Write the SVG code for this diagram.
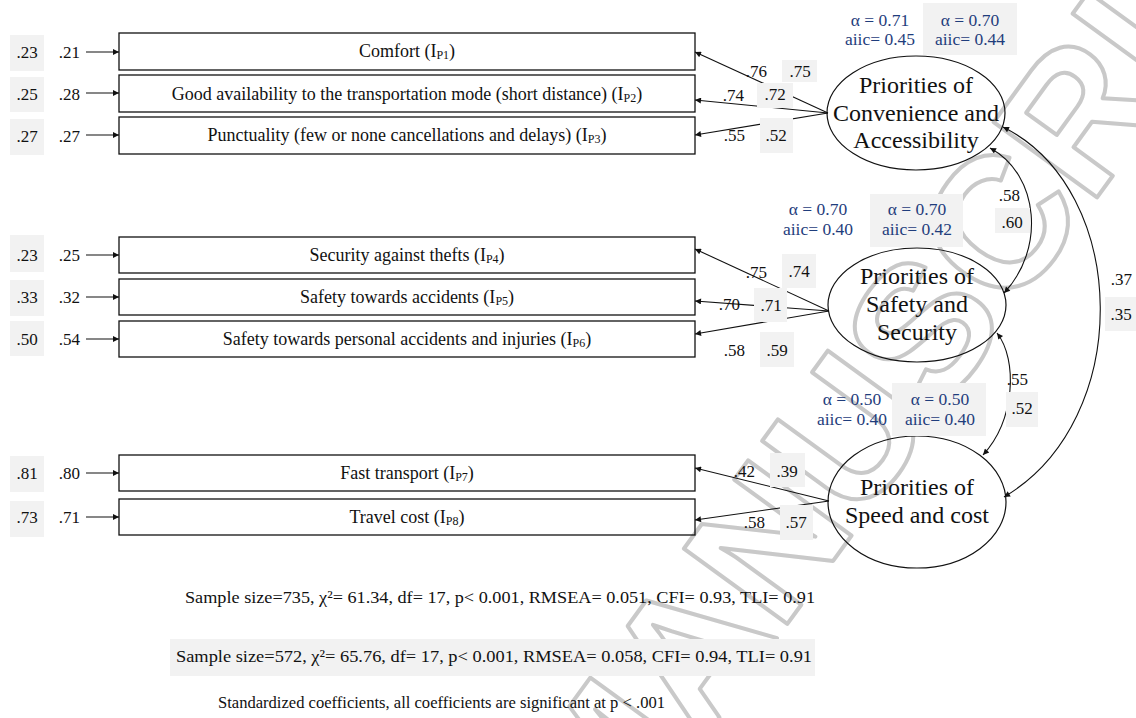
<svg xmlns="http://www.w3.org/2000/svg" width="1136" height="718" viewBox="0 0 1136 718">
  <style>
    text { font-family: "Liberation Serif", "Times New Roman", serif; fill: #111; }
    .ind { fill: none; stroke: #111; stroke-width: 1.3; }
    .lat { fill: none; stroke: #111; stroke-width: 1.2; }
    .shade { fill: #f2f2f2; stroke: none; }
    .num { font-size: 17px; text-anchor: middle; }
    .err { font-size: 17px; text-anchor: end; }
    .lbl { font-size: 18px; text-anchor: middle; }
    .sub { font-size: 12px; }
    .fac { font-size: 24px; text-anchor: middle; }
    .rel { font-size: 17.5px; text-anchor: middle; fill: #1f3d7c; }
    .fit { font-size: 17px; }
    .edge { fill: none; stroke: #111; stroke-width: 1.1; }
    .wm { font-family: "Liberation Sans", Arial, sans-serif; font-weight: bold; font-size: 186px; fill: none; stroke: #c9c9c9; stroke-width: 4; stroke-linejoin: round; }
  </style>
  <defs>
    <marker id="arr" viewBox="0 0 10 10" refX="10" refY="5" markerWidth="9" markerHeight="6" markerUnits="userSpaceOnUse" orient="auto-start-reverse">
      <path d="M0,0 L10,5 L0,10 z" fill="#111"/>
    </marker>
  </defs>

  <!-- background watermark -->
  <text class="wm" x="610" y="868" transform="rotate(-54 610 868)">MANUSCRIPT</text>

  <!-- connectors -->
  <g id="connectors">
    <!-- error terms -->
    <g class="edge" marker-end="url(#arr)">
      <line x1="86" y1="52" x2="119" y2="52"/>
      <line x1="86" y1="93" x2="119" y2="93"/>
      <line x1="86" y1="135" x2="119" y2="135"/>
      <line x1="86" y1="255" x2="119" y2="255"/>
      <line x1="86" y1="297" x2="119" y2="297"/>
      <line x1="86" y1="339" x2="119" y2="339"/>
      <line x1="86" y1="473" x2="119" y2="473"/>
      <line x1="86" y1="517" x2="119" y2="517"/>
    </g>
    <!-- factor loadings -->
    <g class="edge" marker-end="url(#arr)">
      <line x1="828" y1="113" x2="695" y2="52"/>
      <line x1="828" y1="113" x2="695" y2="100"/>
      <line x1="828" y1="113" x2="695" y2="135"/>
      <line x1="829" y1="311" x2="695" y2="249"/>
      <line x1="829" y1="311" x2="695" y2="301"/>
      <line x1="829" y1="311" x2="695" y2="334"/>
      <line x1="829" y1="501" x2="695" y2="468"/>
      <line x1="829" y1="501" x2="695" y2="520"/>
    </g>
    <!-- factor covariances -->
    <g class="edge" marker-start="url(#arr)" marker-end="url(#arr)">
      <path d="M990,148 C1040,175 1045,250 1004,293"/>
      <path d="M1003,127 C1130,190 1135,420 1004,497"/>
      <path d="M997,333 C1018,360 1015,420 983,455"/>
    </g>
  </g>

  <!-- residual variances -->
  <g id="residuals">
    <rect class="shade" x="10" y="35" width="34" height="36"/>
    <rect class="shade" x="10" y="77" width="34" height="35"/>
    <rect class="shade" x="10" y="119" width="34" height="36"/>
    <rect class="shade" x="10" y="235" width="34" height="37"/>
    <rect class="shade" x="10" y="280" width="34" height="36"/>
    <rect class="shade" x="10" y="321" width="34" height="35"/>
    <rect class="shade" x="10" y="456" width="34" height="36"/>
    <rect class="shade" x="10" y="501" width="34" height="36"/>
    <text class="num" x="27" y="58">.23</text>
    <text class="num" x="27" y="100">.25</text>
    <text class="num" x="27" y="142">.27</text>
    <text class="num" x="27" y="261">.23</text>
    <text class="num" x="27" y="303">.33</text>
    <text class="num" x="27" y="345">.50</text>
    <text class="num" x="27" y="479">.81</text>
    <text class="num" x="27" y="523">.73</text>
    <text class="err" x="80" y="58">.21</text>
    <text class="err" x="80" y="100">.28</text>
    <text class="err" x="80" y="142">.27</text>
    <text class="err" x="80" y="261">.25</text>
    <text class="err" x="80" y="303">.32</text>
    <text class="err" x="80" y="345">.54</text>
    <text class="err" x="80" y="479">.80</text>
    <text class="err" x="80" y="523">.71</text>
  </g>

  <!-- observed indicators -->
  <g id="ip1"><rect class="ind" x="119" y="33" width="576" height="37"/>
    <text class="lbl" x="407" y="57">Comfort (I<tspan class="sub" dy="2">P1</tspan><tspan dy="-2">)</tspan></text></g>
  <g id="ip2"><rect class="ind" x="119" y="75" width="576" height="37"/>
    <text class="lbl" x="407" y="100">Good availability to the transportation mode (short distance) (I<tspan class="sub" dy="2">P2</tspan><tspan dy="-2">)</tspan></text></g>
  <g id="ip3"><rect class="ind" x="119" y="117" width="576" height="37"/>
    <text class="lbl" x="407" y="141">Punctuality (few or none cancellations and delays) (I<tspan class="sub" dy="2">P3</tspan><tspan dy="-2">)</tspan></text></g>
  <g id="ip4"><rect class="ind" x="119" y="237" width="576" height="36"/>
    <text class="lbl" x="407" y="261">Security against thefts (I<tspan class="sub" dy="2">P4</tspan><tspan dy="-2">)</tspan></text></g>
  <g id="ip5"><rect class="ind" x="119" y="279" width="576" height="36"/>
    <text class="lbl" x="407" y="303">Safety towards accidents (I<tspan class="sub" dy="2">P5</tspan><tspan dy="-2">)</tspan></text></g>
  <g id="ip6"><rect class="ind" x="119" y="321" width="576" height="36"/>
    <text class="lbl" x="407" y="345">Safety towards personal accidents and injuries (I<tspan class="sub" dy="2">P6</tspan><tspan dy="-2">)</tspan></text></g>
  <g id="ip7"><rect class="ind" x="119" y="455" width="576" height="36"/>
    <text class="lbl" x="407" y="479">Fast transport (I<tspan class="sub" dy="2">P7</tspan><tspan dy="-2">)</tspan></text></g>
  <g id="ip8"><rect class="ind" x="119" y="499" width="576" height="36"/>
    <text class="lbl" x="407" y="523">Travel cost (I<tspan class="sub" dy="2">P8</tspan><tspan dy="-2">)</tspan></text></g>

  <!-- latent factors -->
  <g id="f-convenience">
    <ellipse class="lat" cx="916" cy="113" rx="89" ry="57"/>
    <text class="fac" x="916" y="93">Priorities of</text>
    <text class="fac" x="916" y="121">Convenience and</text>
    <text class="fac" x="916" y="148">Accessibility</text>
  </g>
  <g id="f-safety">
    <ellipse class="lat" cx="917" cy="305" rx="89" ry="57"/>
    <text class="fac" x="917" y="284">Priorities of</text>
    <text class="fac" x="917" y="312">Safety and</text>
    <text class="fac" x="917" y="340">Security</text>
  </g>
  <g id="f-speed">
    <ellipse class="lat" cx="917" cy="502" rx="89" ry="66"/>
    <text class="fac" x="917" y="495">Priorities of</text>
    <text class="fac" x="917" y="523">Speed and cost</text>
  </g>

  <!-- loading and covariance values -->
  <g id="coefficients">
    <rect class="shade" x="782" y="60" width="35" height="22"/>
    <rect class="shade" x="757" y="83" width="36" height="25"/>
    <rect class="shade" x="760" y="118" width="33" height="35"/>
    <text class="err" x="767" y="77">.76</text>
    <text class="num" x="800" y="77">.75</text>
    <text class="err" x="744" y="101">.74</text>
    <text class="num" x="775" y="100">.72</text>
    <text class="err" x="745" y="141">.55</text>
    <text class="num" x="776" y="141">.52</text>

    <rect class="shade" x="782" y="254" width="34" height="34"/>
    <rect class="shade" x="754" y="288" width="33" height="34"/>
    <rect class="shade" x="760" y="332" width="34" height="35"/>
    <text class="err" x="767" y="278">.75</text>
    <text class="num" x="799" y="277">.74</text>
    <text class="err" x="740" y="310">.70</text>
    <text class="num" x="771" y="311">.71</text>
    <text class="err" x="745" y="356">.58</text>
    <text class="num" x="777" y="356">.59</text>

    <rect class="shade" x="770" y="453" width="35" height="34"/>
    <rect class="shade" x="780" y="505" width="33" height="35"/>
    <text class="err" x="755" y="477">.42</text>
    <text class="num" x="787" y="477">.39</text>
    <text class="err" x="765" y="528">.58</text>
    <text class="num" x="796" y="528">.57</text>

    <rect class="shade" x="995" y="208" width="35" height="25"/>
    <rect class="shade" x="1105" y="297" width="31" height="34"/>
    <rect class="shade" x="1006" y="392" width="32" height="35"/>
    <text class="err" x="1020" y="201">.58</text>
    <text class="num" x="1012" y="228">.60</text>
    <text class="err" x="1132" y="285">.37</text>
    <text class="num" x="1121" y="320">.35</text>
    <text class="err" x="1028" y="385">.55</text>
    <text class="num" x="1022" y="414">.52</text>
  </g>

  <!-- reliability annotations -->
  <g id="reliability">
    <rect class="shade" x="923" y="3" width="94" height="52"/>
    <text class="rel" x="880" y="26">α = 0.71</text>
    <text class="rel" x="880" y="45">aiic= 0.45</text>
    <text class="rel" x="970" y="26">α = 0.70</text>
    <text class="rel" x="970" y="45">aiic= 0.44</text>

    <rect class="shade" x="870" y="194" width="93" height="53"/>
    <text class="rel" x="818" y="215">α = 0.70</text>
    <text class="rel" x="818" y="235">aiic= 0.40</text>
    <text class="rel" x="917" y="215">α = 0.70</text>
    <text class="rel" x="917" y="235">aiic= 0.42</text>

    <rect class="shade" x="892" y="383" width="94" height="53"/>
    <text class="rel" x="852" y="405">α = 0.50</text>
    <text class="rel" x="852" y="425">aiic= 0.40</text>
    <text class="rel" x="940" y="405">α = 0.50</text>
    <text class="rel" x="940" y="425">aiic= 0.40</text>
  </g>

  <!-- model fit -->
  <g id="fit">
    <text class="fit" x="185" y="603" textLength="630" lengthAdjust="spacingAndGlyphs">Sample size=735, χ²= 61.34, df= 17, p&lt; 0.001, RMSEA= 0.051, CFI= 0.93, TLI= 0.91</text>
    <rect class="shade" x="170" y="639" width="645" height="37"/>
    <text class="fit" x="176" y="662" textLength="636" lengthAdjust="spacingAndGlyphs">Sample size=572, χ²= 65.76, df= 17, p&lt; 0.001, RMSEA= 0.058, CFI= 0.94, TLI= 0.91</text>
    <text class="fit" x="218" y="708" textLength="447" lengthAdjust="spacingAndGlyphs">Standardized coefficients, all coefficients are significant at p &lt; .001</text>
  </g>
</svg>
